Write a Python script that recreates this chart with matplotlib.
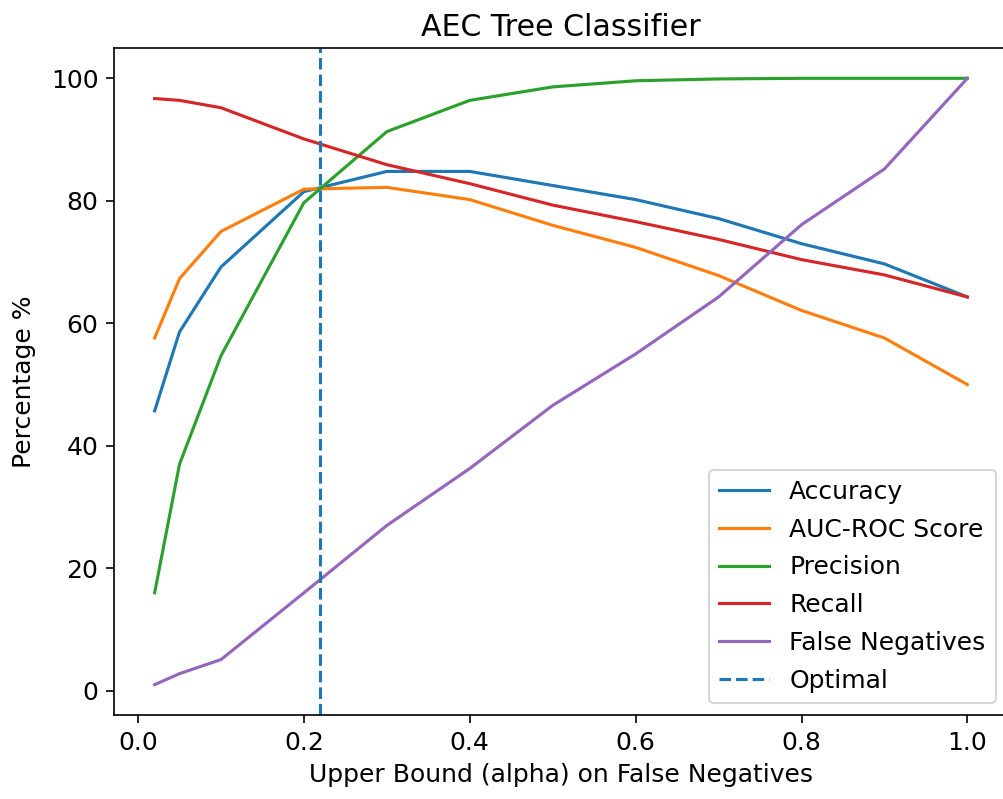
import numpy as np
import matplotlib
matplotlib.use("Agg")
import matplotlib.pyplot as plt

# upper bound on false negatives (alpha)
alphas = [0.02, 0.05, 0.1, 0.2, 0.3, 0.4, 0.5, 0.6, 0.7, 0.8, 0.9, 1.0]

accuracy = [45.7, 58.6, 69.2, 81.5, 84.8, 84.8, 82.5, 80.2, 77.1, 73.0, 69.7, 64.3]
auc_roc = [57.6, 67.3, 75.0, 81.9, 82.2, 80.2, 76.0, 72.4, 67.8, 62.1, 57.6, 50.0]
precision = [16.0, 37.0, 54.7, 79.7, 91.3, 96.4, 98.6, 99.6, 99.9, 100.0, 100.0, 100.0]
recall = [96.7, 96.4, 95.2, 90.1, 85.9, 82.8, 79.3, 76.6, 73.7, 70.4, 67.9, 64.3]
false_neg = [1.0, 2.8, 5.1, 16.0, 27.0, 36.3, 46.6, 55.0, 64.3, 76.1, 85.2, 100.0]

optimal_alpha = 0.22

DPI = 150
plt.rcParams['font.size'] = 12
fig = plt.figure(figsize=(1003 / DPI, 799 / DPI), dpi=DPI)
ax = fig.add_axes([114 / 1003, 84 / 799, 894 / 1003, 667 / 799])

ax.plot(alphas, accuracy, label="Accuracy")
ax.plot(alphas, auc_roc, label="AUC-ROC Score")
ax.plot(alphas, precision, label="Precision")
ax.plot(alphas, recall, label="Recall")
ax.plot(alphas, false_neg, label="False Negatives")
ax.axvline(optimal_alpha, linestyle="--", label="Optimal")

ax.set_title("AEC Tree Classifier", fontsize=14.4)
ax.set_xlabel("Upper Bound (alpha) on False Negatives")
ax.set_ylabel("Percentage %", labelpad=7)
ax.tick_params(labelsize=12, length=4)
ax.legend(loc="lower right", labelspacing=0.55)

fig.savefig("out.png", dpi=DPI)
